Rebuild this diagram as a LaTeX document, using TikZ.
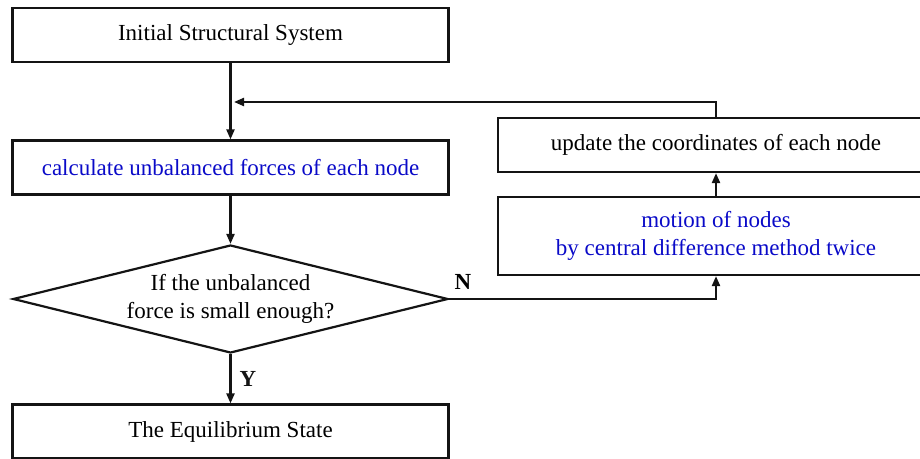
\documentclass[tikz,border=0pt]{standalone}
\usepackage{fontspec}
\setmainfont{Liberation Serif}
\usetikzlibrary{positioning,arrows.meta,shapes.geometric}
\definecolor{fcBlue}{RGB}{10,10,200}
\definecolor{fcLine}{RGB}{20,20,20}
\tikzset{
    base/.style={font=\fontsize{11.5}{14}\selectfont, align=center, text=black},
    block/.style={base, rectangle, draw=fcLine, line width=1.1pt,
                  minimum width=218pt, minimum height=27pt, inner sep=2pt},
    decision/.style={base, diamond, draw=fcLine, line width=1.1pt, aspect=4,
                     minimum width=217.5pt, minimum height=54pt, inner sep=0pt},
    flow/.style={-{Triangle[length=5pt,width=4pt]}, line width=1.1pt, color=fcLine},
    tag/.style={font=\fontsize{11.5}{14}\selectfont\bfseries, inner sep=1pt}
}
\begin{document}
\begin{tikzpicture}[x=0.5pt, y=-0.5pt]
    \useasboundingbox (0,0) rectangle (920,459);
    \clip (0,0) rectangle (920,459);

    % Main column
    \node[block] (init) at (230.5,35) {Initial Structural System};
    \node[block, text=fcBlue] (forces) at (230.5,167.5) {calculate unbalanced forces of each node};
    \node[decision] (check) at (230.5,299) {If the unbalanced\\force is small enough?};
    \node[block] (equil) at (230.5,431.5) {The Equilibrium State};

    % Iteration column
    \node[block] (update) at (716,145) {update the coordinates of each node};
    \node[block, text=fcBlue, minimum height=39pt] (motion) at (716,236)
        {motion of nodes\\by central difference method twice};

    \coordinate (loopin) at (234,102);

    % Connectors
    \draw[flow] (init.south) -- (forces.north);
    \draw[flow] (forces.south) -- (check.north);
    \draw[flow] (check.south) -- node[tag, right=3pt] {Y} (equil.north);
    \draw[flow] (check.east) -| (motion.south);
    \node[tag] (no) at (463,282) {N};
    \draw[flow] (motion.north) -- (update.south);
    \draw[flow] (update.north) |- (loopin);
\end{tikzpicture}
\end{document}
